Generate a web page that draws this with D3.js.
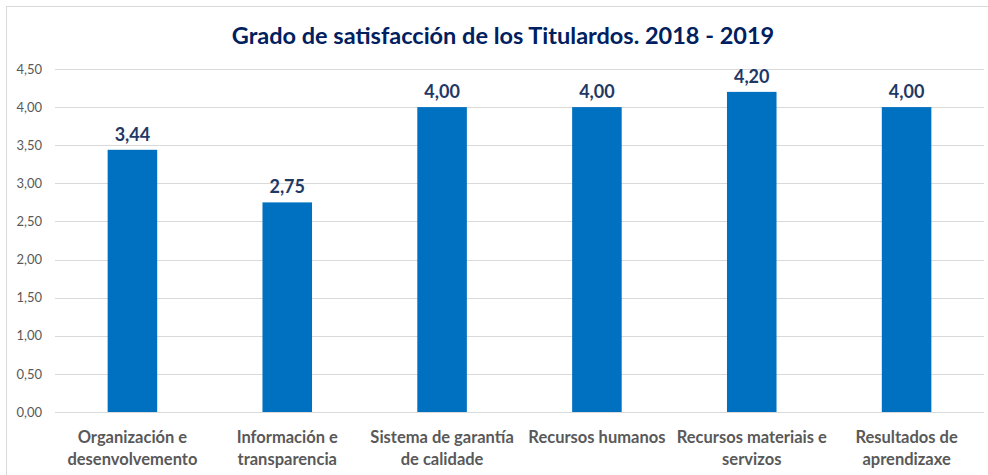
<!DOCTYPE html>
<html>
<head>
<meta charset="utf-8">
<script src="https://cdn.jsdelivr.net/npm/d3@7"></script>
<style>
  body { margin: 0; background: #fff; }
  svg { display: block; font-family: Lato, "Open Sans", sans-serif; }
</style>
</head>
<body>
<script>
// chart data
var categories = [
  ["Organización e", "desenvolvemento"],
  ["Información e", "transparencia"],
  ["Sistema de garantía", "de calidade"],
  ["Recursos humanos"],
  ["Recursos materiais e", "servizos"],
  ["Resultados de", "aprendizaxe"]
];
var values = [3.44, 2.75, 4.00, 4.00, 4.20, 4.00];
var yTicks = [0, 0.5, 1, 1.5, 2, 2.5, 3, 3.5, 4, 4.5];

var width = 988, height = 475;
// plot area (window.top is reserved, so no plain "top")
var plotLeft = 55, plotRight = 984, plotTop = 69, plotBottom = 412;

var svg = d3.select("body").append("svg")
    .attr("width", width)
    .attr("height", height);

// chart frame (only top and left edges show in the picture)
svg.append("rect")
    .attr("x", 6.5).attr("y", 6.5)
    .attr("width", 1100).attr("height", 600)
    .attr("fill", "none")
    .attr("stroke", "#d9d9d9");

var x = d3.scaleBand()
    .domain(d3.range(categories.length))
    .range([plotLeft, plotRight])
    .paddingInner(0.68)
    .paddingOuter(0.34);

var y = d3.scaleLinear()
    .domain([0, 4.5])
    .range([plotBottom, plotTop]);

var fmt = function(v) { return d3.format(".2f")(v).replace(".", ","); };

// gridlines
svg.append("g")
  .selectAll("line")
  .data(yTicks)
  .join("line")
    .attr("x1", plotLeft).attr("x2", plotRight)
    .attr("y1", function(d) { return Math.round(y(d)) + 0.5; })
    .attr("y2", function(d) { return Math.round(y(d)) + 0.5; })
    .attr("stroke", "#d9d9d9")
    .attr("stroke-width", 1);

// y axis labels
var yAxis = svg.append("g")
    .attr("transform", "translate(" + (plotLeft - 13) + ",0)")
    .call(d3.axisLeft(y).tickValues(yTicks).tickFormat(fmt).tickSize(0).tickPadding(0));
yAxis.select(".domain").remove();
yAxis.selectAll("text")
    .attr("fill", "#595959")
    .style("font-size", "13px")
    .style("font-family", "Lato, 'Open Sans', sans-serif");

// bars
svg.append("g")
  .selectAll("rect")
  .data(values)
  .join("rect")
    .attr("x", function(d, i) { return x(i); })
    .attr("y", function(d) { return y(d); })
    .attr("width", x.bandwidth())
    .attr("height", function(d) { return y(0) - y(d); })
    .attr("fill", "#0070c0");

// value labels
svg.append("g")
  .selectAll("text")
  .data(values)
  .join("text")
    .attr("x", function(d, i) { return x(i) + x.bandwidth() / 2; })
    .attr("y", function(d) { return y(d) - 9; })
    .attr("text-anchor", "middle")
    .attr("fill", "#1f3864")
    .style("font-size", "18px")
    .style("font-weight", "bold")
    .text(fmt);

// category labels
var cat = svg.append("g")
  .selectAll("text")
  .data(categories)
  .join("text")
    .attr("x", function(d, i) { return x(i) + x.bandwidth() / 2; })
    .attr("y", 443)
    .attr("text-anchor", "middle")
    .attr("fill", "#595959")
    .style("font-size", "16.5px")
    .style("font-weight", "bold");
cat.selectAll("tspan")
  .data(function(d) { return d; })
  .join("tspan")
    .attr("x", function() { return d3.select(this.parentNode).attr("x"); })
    .attr("dy", function(d, j) { return j === 0 ? 0 : 22; })
    .text(function(d) { return d; });

// title
svg.append("text")
    .attr("x", 503)
    .attr("y", 44)
    .attr("text-anchor", "middle")
    .attr("fill", "#002060")
    .style("font-size", "23.5px")
    .style("font-weight", "bold")
    .text("Grado de satisfacción de los Titulardos. 2018 - 2019");
</script>
</body>
</html>
